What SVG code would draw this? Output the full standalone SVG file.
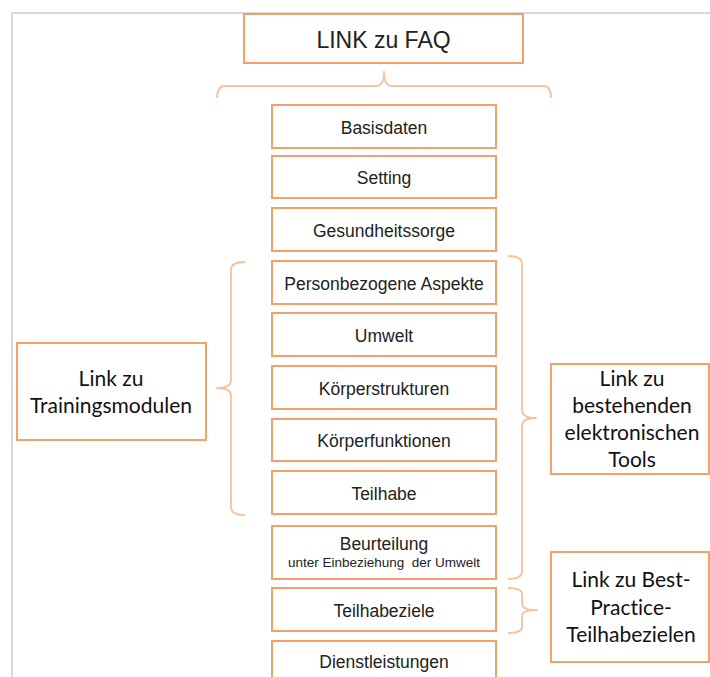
<svg xmlns="http://www.w3.org/2000/svg" width="710" height="677" viewBox="0 0 710 677">
<style>
.box{fill:#fff;stroke:#F3A06A;stroke-width:2}
.br{fill:none;stroke:#F7C29C;stroke-width:1.8;stroke-linejoin:round}
.t{font-family:"Liberation Sans",Arial,sans-serif;font-size:17.5px;fill:#222;text-anchor:middle}
.s{font-family:"Liberation Sans",Arial,sans-serif;font-size:13.5px;fill:#222;text-anchor:middle;white-space:pre}
.c{font-family:Lato,"Open Sans",sans-serif;font-size:21px;fill:#111;text-anchor:middle;font-variant-ligatures:none}
</style>
<rect x="0" y="0" width="710" height="677" fill="#fff"/>
<path d="M12 677 L12 13 L710 13" fill="none" stroke="#d9d9d9" stroke-width="2"/>
<g id="connectors">
<path class="br" d="M217 98 Q217 86 225 86 L376 86 Q384 86 384 72 Q384 86 392 86 L543 86 Q551 86 551 98"/>
<path class="br" d="M245 262 Q231 262 231 270 L231 380 Q231 388 217 388 Q231 388 231 396 L231 507 Q231 515 245 515"/>
<path class="br" d="M508 256 Q522 256 522 264 L522 410 Q522 418 536 418 Q522 418 522 426 L522 571 Q522 579 508 579"/>
<path class="br" d="M508 588 Q522 588 522 594 L522 604 Q522 610 537 610 Q522 610 522 616 L522 627 Q522 633 508 633"/>
</g>
<g id="faq"><rect class="box" x="244" y="14" width="279" height="49"/><text class="t" x="383.5" y="48" style="font-size:23px">LINK zu FAQ</text></g>
<g id="basisdaten"><rect class="box" x="272" y="105" width="224" height="43"/><text class="t" x="384" y="133.5">Basisdaten</text></g>
<g id="setting"><rect class="box" x="272" y="156" width="224" height="42"/><text class="t" x="384" y="184">Setting</text></g>
<g id="gesundheitssorge"><rect class="box" x="272" y="208" width="224" height="43"/><text class="t" x="384" y="236.5">Gesundheitssorge</text></g>
<g id="personbezogene"><rect class="box" x="272" y="261" width="224" height="43"/><text class="t" x="384" y="289.5">Personbezogene Aspekte</text></g>
<g id="umwelt"><rect class="box" x="272" y="313" width="224" height="43"/><text class="t" x="384" y="341.5">Umwelt</text></g>
<g id="koerperstrukturen"><rect class="box" x="272" y="366" width="224" height="43"/><text class="t" x="384" y="394.5">Körperstrukturen</text></g>
<g id="koerperfunktionen"><rect class="box" x="272" y="419" width="224" height="42"/><text class="t" x="384" y="447">Körperfunktionen</text></g>
<g id="teilhabe"><rect class="box" x="272" y="471" width="224" height="43"/><text class="t" x="384" y="499.5">Teilhabe</text></g>
<g id="beurteilung"><rect class="box" x="272" y="526" width="224" height="53"/><text class="t" x="384" y="550">Beurteilung</text><text class="s" x="384" y="567" xml:space="preserve">unter Einbeziehung  der Umwelt</text></g>
<g id="teilhabeziele"><rect class="box" x="272" y="588" width="224" height="43"/><text class="t" x="384" y="616.5">Teilhabeziele</text></g>
<g id="dienstleistungen"><rect class="box" x="272" y="641" width="224" height="50"/><text class="t" x="384" y="668">Dienstleistungen</text></g>
<g id="trainingsmodule"><rect class="box" x="17" y="343" width="189" height="97"/><text class="c" x="111" y="385.5">Link zu</text><text class="c" x="111" y="413">Trainingsmodulen</text></g>
<g id="tools"><rect class="box" x="551" y="364" width="158" height="110"/><text class="c" x="632" y="385.5">Link zu</text><text class="c" x="632" y="412.5">bestehenden</text><text class="c" x="632" y="440">elektronischen</text><text class="c" x="632" y="467">Tools</text></g>
<g id="bestpractice"><rect class="box" x="551" y="552" width="158" height="110"/><text class="c" x="631" y="587">Link zu Best-</text><text class="c" x="631" y="615">Practice-</text><text class="c" x="631" y="641.5">Teilhabezielen</text></g>
</svg>
